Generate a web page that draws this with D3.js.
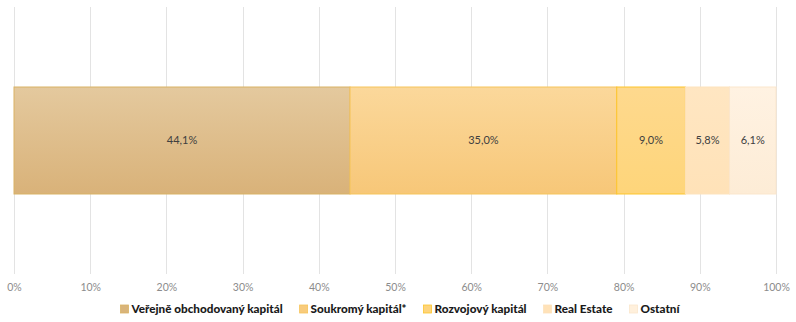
<!DOCTYPE html>
<html>
<head>
<meta charset="utf-8">
<script src="https://cdn.jsdelivr.net/npm/d3@7"></script>
<style>
  html, body { margin: 0; padding: 0; background: #fff; }
  svg { display: block; }
  text { font-family: Lato, "Open Sans", sans-serif; }
</style>
</head>
<body>
<svg id="chart" width="796" height="322"></svg>
<script>
// Portfolio allocation by asset class (shares in %)
const categories = ["Veřejně obchodovaný kapitál", "Soukromý kapitál*", "Rozvojový kapitál", "Real Estate", "Ostatní"];
const values = [44.1, 35.0, 9.0, 5.8, 6.1];
const tickValues = [0, 10, 20, 30, 40, 50, 60, 70, 80, 90, 100];

// fill gradient (top, bottom) and outline per segment
const fillTop = ["#e4c99e", "#fbd89b", "#fed98e", "#ffe6c2", "#fff2e2"];
const fillBottom = ["#d9b279", "#f7c778", "#fed57a", "#ffe2b8", "#fdecd6"];
const strokes = ["#d9b264", "#f6c45a", "#fdc52a", "#fde2bb", "#fbe6cc"];
const swatch = ["#d9b47a", "#f8cb7c", "#fed47c", "#ffe2b8", "#fff0dc"];

const svg = d3.select("#chart");

const x = d3.scaleLinear().domain([0, 100]).range([14, 776]);
const y = d3.scaleBand().domain(["row"]).range([7, 274]).paddingInner(0).paddingOuter(0.748);

// gradients
const defs = svg.append("defs");
categories.forEach((c, i) => {
  const g = defs.append("linearGradient")
    .attr("id", "grad" + i).attr("x1", 0).attr("y1", 0).attr("x2", 0).attr("y2", 1);
  g.append("stop").attr("offset", "0%").attr("stop-color", fillTop[i]);
  g.append("stop").attr("offset", "100%").attr("stop-color", fillBottom[i]);
});

// vertical gridlines
svg.append("g")
  .selectAll("line")
  .data(tickValues)
  .join("line")
  .attr("x1", d => Math.round(x(d)) + 0.5)
  .attr("x2", d => Math.round(x(d)) + 0.5)
  .attr("y1", 7)
  .attr("y2", 274)
  .attr("stroke", "#e3e3e3")
  .attr("stroke-width", 1);

// stacked segments
let acc = 0;
const segs = values.map((v, i) => {
  const s = { i, start: acc, end: acc + v, v };
  acc += v;
  return s;
});

const bar = svg.append("g");
bar.selectAll("rect")
  .data(segs)
  .join("rect")
  .attr("x", d => x(d.start))
  .attr("width", d => x(d.end) - x(d.start))
  .attr("y", y("row"))
  .attr("height", y.bandwidth())
  .attr("fill", d => `url(#grad${d.i})`)
  .attr("stroke", d => strokes[d.i])
  .attr("stroke-width", 1);

bar.selectAll("text")
  .data(segs)
  .join("text")
  .attr("x", d => (x(d.start) + x(d.end)) / 2)
  .attr("y", y("row") + y.bandwidth() / 2)
  .attr("dy", "0.35em")
  .attr("text-anchor", "middle")
  .attr("font-size", 11)
  .attr("fill", "#404040")
  .text(d => d.v.toFixed(1).replace(".", ",") + "%");

// x axis labels
const axis = d3.axisBottom(x)
  .tickValues(tickValues)
  .tickSize(0)
  .tickFormat(d => d + "%");
const ax = svg.append("g").attr("transform", "translate(0,281)").call(axis);
ax.select(".domain").remove();
ax.selectAll("text")
  .attr("font-family", "Lato, 'Open Sans', sans-serif")
  .attr("font-size", 10.5)
  .attr("fill", "#8c8c8c");

// legend
const legend = svg.append("g");
const items = legend.selectAll("g")
  .data(categories)
  .join("g");
items.append("rect")
  .attr("width", 8).attr("height", 8)
  .attr("y", -4)
  .attr("fill", (d, i) => swatch[i])
  .attr("stroke", (d, i) => strokes[i])
  .attr("stroke-width", 0.8);
items.append("text")
  .attr("x", 11)
  .attr("dy", "0.35em")
  .attr("font-size", 11.7)
  .attr("font-weight", 900)
  .attr("fill", "#1a1a1a")
  .text(d => d);

const gap = 17;
const widths = [];
items.each(function () {
  widths.push(11 + this.querySelector("text").getComputedTextLength());
});
const total = d3.sum(widths) + gap * (widths.length - 1);
let start = 400 - total / 2;
items.attr("transform", (d, i) => {
  const tx = start;
  start += widths[i] + gap;
  return `translate(${tx},309)`;
});
</script>
</body>
</html>
